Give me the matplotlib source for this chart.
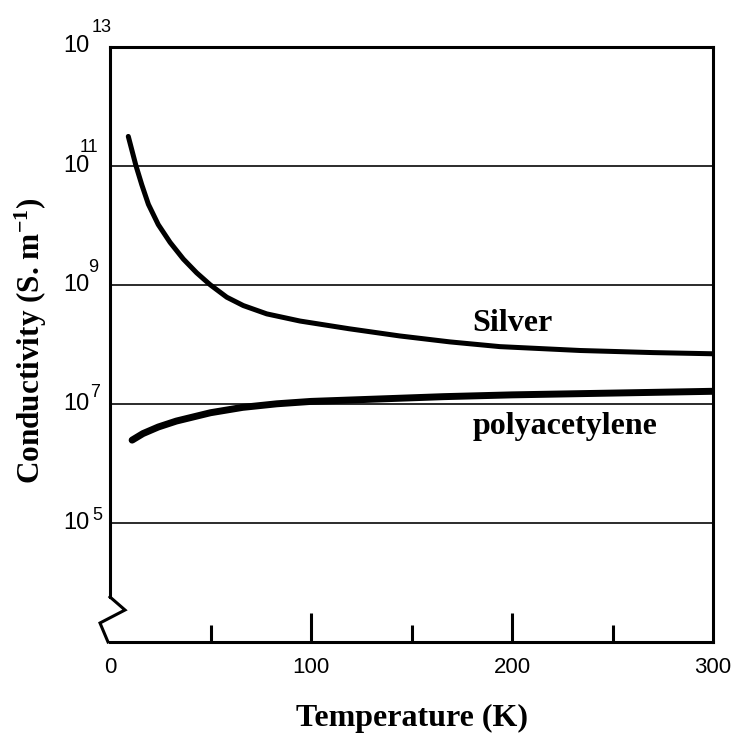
import numpy as np
import matplotlib
matplotlib.use("Agg")
import matplotlib.pyplot as plt
from matplotlib.transforms import blended_transform_factory
from matplotlib.lines import Line2D
from matplotlib.ticker import NullLocator

# ---- data ----
temp_silver = [9.1, 12.9, 15.8, 19.1, 24.0, 29.9, 36.5, 43.1, 49.8, 58.1, 66.3, 78,
               94.5, 119, 144, 169, 194, 234, 270, 300]
log_sigma_silver = [11.49, 11.0, 10.68, 10.35, 10.01, 9.71, 9.43, 9.20, 9.0, 8.79, 8.65, 8.51,
                    8.39, 8.26, 8.14, 8.04, 7.96, 7.895, 7.86, 7.84]

temp_poly = [11, 16.4, 24, 33, 50, 66, 83, 100, 133, 166, 200, 250, 300]
log_sigma_poly = [6.39, 6.50, 6.61, 6.71, 6.85, 6.94, 7.00, 7.04, 7.08, 7.12, 7.15, 7.18, 7.21]

x_major = [0, 100, 200, 300]
x_minor = [50, 150, 250]
y_decades = [5, 7, 9, 11, 13]

label_silver = "Silver"
label_poly = "polyacetylene"
x_title = "Temperature (K)"
y_title = r"Conductivity (S. m$^{-1}$)"

# ---- style ----
plt.rcParams["mathtext.fontset"] = "custom"
plt.rcParams["mathtext.rm"] = "Liberation Serif:bold"
plt.rcParams["mathtext.it"] = "Liberation Serif:bold"
plt.rcParams["mathtext.bf"] = "Liberation Serif:bold"
plt.rcParams["mathtext.sf"] = "Liberation Serif:bold"

W, H = 737, 733
fig = plt.figure(figsize=(W / 100, H / 100), dpi=100)
ax_l, ax_r, ax_t, ax_b = 110, 713, 46.5, 642
ax = fig.add_axes([ax_l / W, 1 - ax_b / H, (ax_r - ax_l) / W, (ax_b - ax_t) / H])
aw, ah = ax_r - ax_l, ax_b - ax_t

ax.set_yscale("log")
ax.set_xlim(0, 300)
ax.set_ylim(1e3, 1e13)

ax.plot(temp_silver, 10 ** np.array(log_sigma_silver), color="black", lw=3.6,
        solid_capstyle="round", solid_joinstyle="round", zorder=3)
ax.plot(temp_poly, 10 ** np.array(log_sigma_poly), color="black", lw=5.0,
        solid_capstyle="round", solid_joinstyle="round", zorder=3)

# y grid lines, no tick marks
ax.set_yticks([10.0 ** e for e in y_decades])
ax.yaxis.set_minor_locator(NullLocator())
ax.tick_params(axis="y", which="both", length=0, labelleft=False)
ax.grid(axis="y", color="#1a1a1a", lw=1.3)
ax.set_axisbelow(True)

# x ticks inside
ax.set_xticks(x_major)
ax.set_xticks(x_minor, minor=True)
ax.tick_params(axis="x", which="major", direction="in", length=21, width=2.2,
               pad=11, labelsize=16, color="black")
ax.tick_params(axis="x", which="minor", direction="in", length=12.5, width=2.2)
for lab in ax.get_xticklabels():
    lab.set_family("Liberation Sans")
ticks = ax.xaxis.get_major_ticks()
ticks[0].tick1line.set_visible(False)
ticks[-1].tick1line.set_visible(False)

# spines
for s in ax.spines.values():
    s.set_linewidth(2.2)
    s.set_color("black")
brk_top = 0.0756
ax.spines["left"].set_bounds(10 ** (3 + 10 * brk_top), 1e13)
zig = Line2D([0, 15 / aw, -10 / aw, -2 / aw],
             [brk_top, (ax_b - 610) / ah, (ax_b - 623) / ah, 0],
             transform=ax.transAxes, color="black", lw=2.2, clip_on=False,
             solid_joinstyle="miter")
ax.add_line(zig)

# y tick labels 10^n
trans = blended_transform_factory(ax.transAxes, ax.transData)
sup_off = {13: (2, 14), 11: (-10, 14), 9: (-2, 13), 7: (0, 7), 5: (2, 3)}
x_lab = -20 / aw
for e in y_decades:
    ax.text(x_lab, 10.0 ** e, "10", transform=trans, ha="right", va="center",
            fontsize=17, family="Liberation Sans", clip_on=False)
    dx, dy = sup_off[e]
    ax.annotate(str(e), xy=(x_lab, 10.0 ** e), xycoords=trans,
                xytext=(dx * 0.72, dy * 0.72), textcoords="offset points",
                ha="left", va="baseline", fontsize=13, family="Liberation Sans",
                annotation_clip=False)

# curve labels
ax.text(180, 10 ** 8.227, label_silver, ha="left", va="baseline", fontsize=23,
        family="Liberation Serif", weight="bold")
ax.text(180.6, 10 ** 6.5, label_poly, ha="left", va="baseline", fontsize=23,
        family="Liberation Serif", weight="bold")

# axis titles
ax.set_xlabel(x_title, fontsize=23, family="Liberation Serif", weight="bold")
ax.xaxis.set_label_coords((412 - ax_l) / aw, (ax_b - 718) / ah)
ax.xaxis.label.set_va("center")
ax.set_ylabel(y_title, fontsize=22.5, family="Liberation Serif", weight="bold")
ax.yaxis.set_label_coords((31 - ax_l) / aw, (ax_b - 341) / ah)
ax.yaxis.label.set_va("center")
ax.yaxis.label.set_ha("center")

fig.savefig("out.png", dpi=100, facecolor="white")
